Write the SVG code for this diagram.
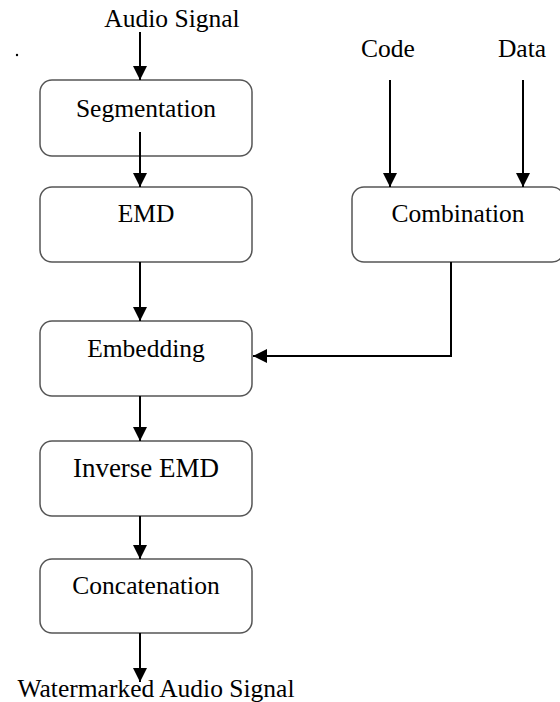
<svg xmlns="http://www.w3.org/2000/svg" width="560" height="702" viewBox="0 0 560 702">
<style>
.box{fill:#fff;stroke:#555;stroke-width:1.5}
.t{font-family:'Liberation Serif','DejaVu Serif',serif;font-size:25.5px;fill:#000;text-anchor:middle}
.c{fill:none;stroke:#000;stroke-width:2}
</style>
<defs>
<marker id="ah" markerWidth="14" markerHeight="14" refX="14" refY="7" orient="auto" markerUnits="userSpaceOnUse">
<path d="M0,0 L14,7 L0,14 Z" fill="#000"/>
</marker>
</defs>
<rect width="560" height="702" fill="#fff"/>
<text class="t" x="172" y="27">Audio Signal</text>
<circle cx="17" cy="55" r="1.2" fill="#000"/>
<text class="t" x="388" y="57">Code</text>
<text class="t" x="522" y="57">Data</text>
<text class="t" x="156" y="697">Watermarked Audio Signal</text>
<g id="segmentation"><rect class="box" x="40" y="80" width="212" height="76" rx="12"/><text class="t" x="146" y="117">Segmentation</text></g>
<g id="emd"><rect class="box" x="40" y="187" width="212" height="75" rx="12"/><text class="t" x="146" y="222">EMD</text></g>
<g id="combination"><rect class="box" x="352" y="187" width="212" height="75" rx="12"/><text class="t" x="458" y="222">Combination</text></g>
<g id="embedding"><rect class="box" x="40" y="321" width="212" height="75" rx="12"/><text class="t" x="146" y="357">Embedding</text></g>
<g id="inverse-emd"><rect class="box" x="40" y="441" width="212" height="75" rx="12"/><text class="t" x="146" y="477" style="font-size:27px">Inverse EMD</text></g>
<g id="concatenation"><rect class="box" x="40" y="559" width="212" height="74" rx="12"/><text class="t" x="146" y="594">Concatenation</text></g>
<g id="connectors">
<path class="c" d="M140,32 V80" marker-end="url(#ah)"/>
<path class="c" d="M140,132 V187" marker-end="url(#ah)"/>
<path class="c" d="M390,80 V187" marker-end="url(#ah)"/>
<path class="c" d="M523,80 V187" marker-end="url(#ah)"/>
<path class="c" d="M140,262 V321" marker-end="url(#ah)"/>
<path class="c" d="M451,262 V356 H253" marker-end="url(#ah)"/>
<path class="c" d="M140,396 V441" marker-end="url(#ah)"/>
<path class="c" d="M140,516 V559" marker-end="url(#ah)"/>
<path class="c" d="M140,633 V682" marker-end="url(#ah)"/>
</g>
</svg>
